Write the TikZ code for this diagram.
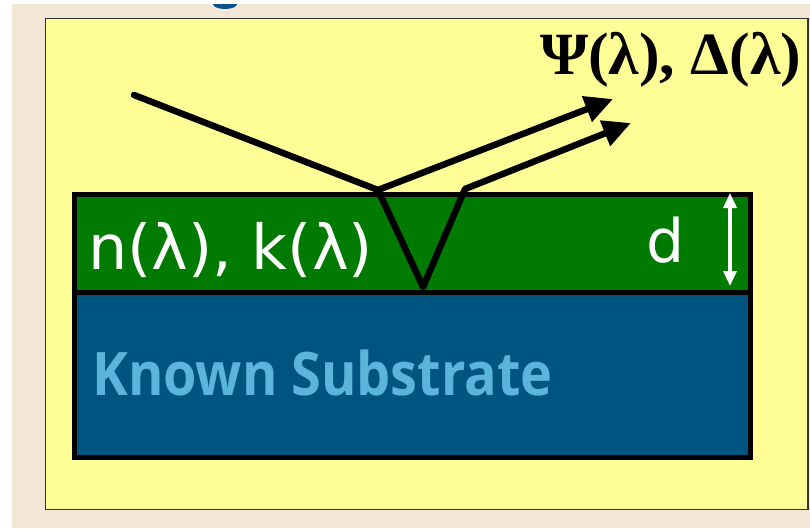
\documentclass[tikz,border=0pt]{standalone}
\usepackage{fontspec}
\setmainfont{Liberation Serif}
\newfontfamily\labelsans{DejaVu Sans}
\newfontfamily\subsans{Open Sans}
\usetikzlibrary{arrows.meta}
\definecolor{pagebeige}{RGB}{242,230,214}
\definecolor{boxyellow}{RGB}{255,253,150}
\definecolor{layergreen}{RGB}{0,122,0}
\definecolor{subblue}{RGB}{0,85,128}
\definecolor{subtext}{RGB}{91,180,220}
\definecolor{fragblue}{RGB}{10,80,140}
\tikzset{
  ray/.style={line width=6.5pt, black, line join=round, line cap=round},
  rayarrow/.style={ray, line cap=butt, -{Triangle[length=28pt,width=26pt]}},
  layer/.style={draw=black, line width=5pt},
  thickarrow/.style={white, line width=3.5pt, {Triangle[length=15pt,width=13pt]}-{Triangle[length=15pt,width=13pt]}},
}
\begin{document}
\begin{tikzpicture}[x=1pt,y=-1pt]
\useasboundingbox (0,0) rectangle (810,528);
\fill[white] (0,0) rectangle (810,528);
\fill[pagebeige] (12,4) rectangle (810,528);
\fill[fragblue] (213,4) arc[start angle=180,end angle=0,x radius=12,y radius=5] -- cycle;
\draw[fill=boxyellow, draw=black!80, line width=1.5pt] (45.5,18.5) rectangle (808,509.5);
% layers
\node[layer, fill=subblue, minimum width=676pt, minimum height=165pt, inner sep=0pt, anchor=north west] (sub) at (72,290) {};
\node[layer, fill=layergreen, minimum width=676pt, minimum height=98pt, inner sep=0pt, anchor=north west] (film) at (72,192) {};
% texts
\node[anchor=base west, inner sep=0pt, text=subtext, xscale=0.9, font=\subsans\bfseries\fontsize{60}{60}\selectfont] (subtxt) at (92,395) {Known Substrate};
\node[anchor=base west, inner sep=0pt, text=white, font=\labelsans\fontsize{62}{62}\selectfont] (nk) at (88,269) {n(λ), k(λ)};
\node[anchor=base west, inner sep=0pt, text=white, font=\labelsans\fontsize{60}{60}\selectfont] (dd) at (646,262) {d};
\node[anchor=base west, inner sep=0pt, xscale=1.03, font=\bfseries\fontsize{60}{60}\selectfont] (psi) at (540,74) {Ψ(λ), Δ(λ)};
% rays
\coordinate (A) at (134,95);
\coordinate (B) at (378,190);
\coordinate (C) at (423,287);
\coordinate (D) at (465,189);
\coordinate (T1) at (613,99);
\coordinate (T2) at (631,123);
\draw[ray] (A) -- (B) -- (C) -- (D);
\draw[rayarrow] (B) -- (T1);
\draw[rayarrow] (D) -- (T2);
% thickness arrow
\coordinate (dtop) at (730,193);
\coordinate (dbot) at (730,286);
\draw[thickarrow] (dtop) -- (dbot);
\end{tikzpicture}
\end{document}
